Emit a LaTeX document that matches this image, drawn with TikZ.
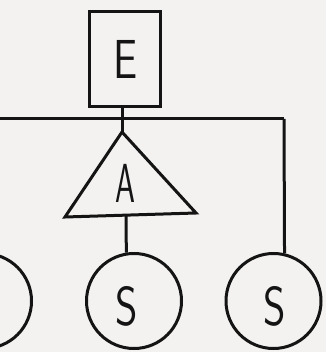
\documentclass[tikz,border=0pt]{standalone}
\usepackage{fontspec}
\definecolor{paper}{RGB}{244,242,240}
\definecolor{ink}{RGB}{20,20,20}
\tikzset{
  ink/.style={draw=ink, line width=3pt},
  letter/.style={text=ink, inner sep=0pt, font=\sffamily\fontsize{55}{55}\selectfont},
  ring/.style={ink, circle, minimum size=95pt, inner sep=0pt},
}
\newcommand{\narrow}[2]{\scalebox{#1}[1]{#2}}
\begin{document}
\begin{tikzpicture}[x=1pt,y=-1pt]
  % page
  \fill[paper] (0,0) rectangle (326,352);
  \useasboundingbox (0,0) rectangle (326,352);

  % top box
  \node[ink, rectangle, minimum width=71pt, minimum height=95pt, inner sep=0pt] (E) at (124.5,59.5) {};
  \node[letter] (Elbl) at (126,59) {\narrow{0.78}{E}};

  % bus line and the right drop
  \coordinate (L) at (0,119);
  \coordinate (J) at (284,119);
  \draw[ink] (L) -- (J);

  % triangle
  \coordinate (apex) at (122,132);
  \coordinate (bl) at (65,217);
  \coordinate (br) at (196,213);
  \coordinate (bm) at (126,215);
  \draw[ink, line join=miter] (apex) -- (bl) -- (br) -- cycle;
  \node[letter] (Albl) at (125,183) {\narrow{0.58}{A}};

  % circles
  \node[ring] (S0) at (-16,301) {};
  \node[ring] (S1) at (134,301) {};
  \node[ring] (S2) at (273.5,301) {};
  \node[letter] (S1lbl) at (127,306) {\narrow{0.78}{S}};
  \node[letter] (S2lbl) at (275,306) {\narrow{0.78}{S}};

  % connectors
  \draw[ink] (E.south -| apex) -- (apex);
  \draw[ink] (bm) -- (S1.99);
  \draw[ink] (J) -- (S2.77.6);
\end{tikzpicture}
\end{document}
